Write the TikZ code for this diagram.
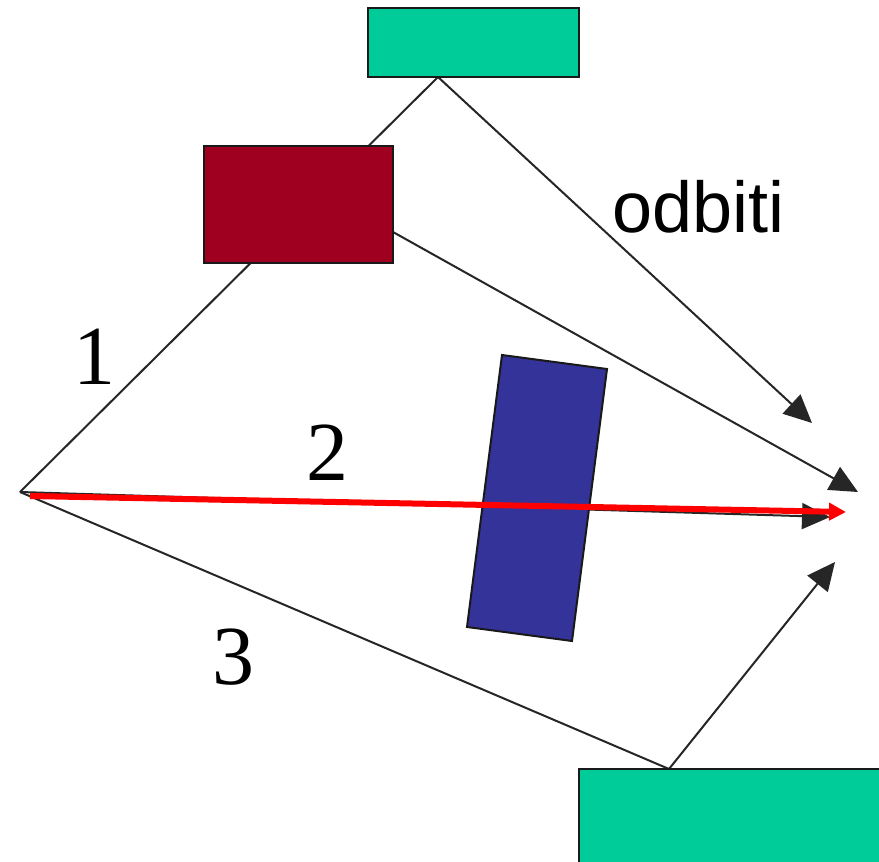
\documentclass[tikz,border=0pt]{standalone}
\usepackage{fontspec}
\setmainfont{Liberation Serif}
\newfontfamily\labelsans{Liberation Sans}
\usetikzlibrary{arrows.meta}
\definecolor{reflgreen}{RGB}{0,204,153}
\definecolor{wallred}{RGB}{160,0,32}
\definecolor{obstblue}{RGB}{51,51,153}
\tikzset{
  ray/.style={line width=2pt, draw=black!85},
  rayarrow/.style={ray, -{Triangle[length=28pt,width=26pt]}},
  blockbox/.style={draw=black!90, line width=2pt, inner sep=0pt, outer sep=0pt},
  numlabel/.style={font=\fontsize{84}{84}\selectfont, inner sep=0pt},
}
\begin{document}
\begin{tikzpicture}[x=1pt,y=-1pt]
\clip (0,0) rectangle (879,862);
\fill[white] (0,0) rectangle (879,862);
% key points
\coordinate (S) at (20,492);
\coordinate (T) at (438,77);
\coordinate (Rin) at (300,180);
\coordinate (B) at (669,769);
\coordinate (E1) at (812,423);
\coordinate (E2) at (858,492);
\coordinate (E3) at (830,517);
\coordinate (E4) at (835,562);
\coordinate (Sr) at (30,496);
\coordinate (Er) at (846,512);
% rays (behind blocks)
\draw[ray] (S) -- (T);
\draw[rayarrow] (T) -- (E1);
\draw[rayarrow] (Rin) -- (E2);
\draw[rayarrow] (S) -- (E3);
\draw[ray] (S) -- (B);
\draw[rayarrow] (B) -- (E4);
% blocks
\node[blockbox, fill=reflgreen, minimum width=211pt, minimum height=69pt] (top) at (473.5,42.5) {};
\node[blockbox, fill=wallred, minimum width=189pt, minimum height=117pt] (wall) at (298.5,204.5) {};
\node[blockbox, fill=reflgreen, minimum width=320pt, minimum height=110pt, anchor=north west] (bottom) at (579,769) {};
\coordinate (o1) at (502,355);
\coordinate (o2) at (607,369);
\coordinate (o3) at (572,641);
\coordinate (o4) at (467,627);
\draw[blockbox, fill=obstblue] (o1) -- (o2) -- (o3) -- (o4) -- cycle;
% direct red ray
\draw[red, line width=6pt, -{Triangle[length=17pt,width=17pt]}] (Sr) -- (Er);
% labels
\node[numlabel] (l1) at (94,357) {1};
\node[numlabel] (l2) at (327,453) {2};
\node[numlabel] (l3) at (233,657) {3};
\node[font=\labelsans\fontsize{72}{72}\selectfont, inner sep=0pt, anchor=base west] (odb) at (612,232) {odbiti};
\end{tikzpicture}
\end{document}
